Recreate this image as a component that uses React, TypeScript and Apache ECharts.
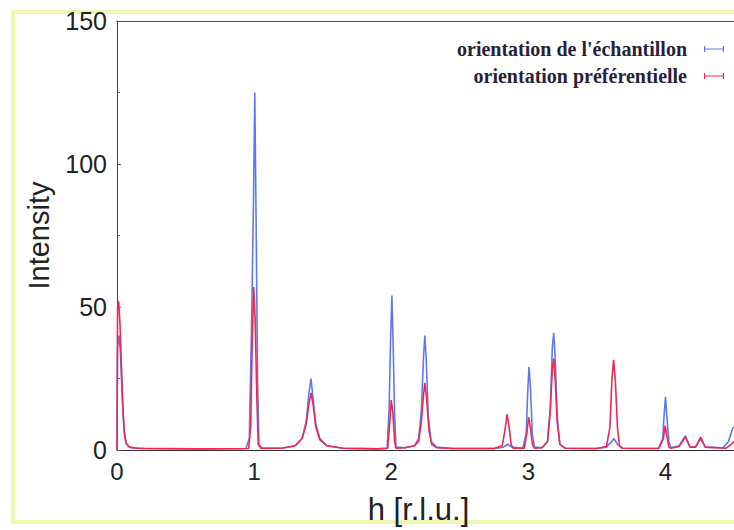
import React, { useEffect, useRef } from "react";
import * as echarts from "echarts";

const seriesNames = ["orientation de l'échantillon", "orientation préférentielle"];

// [h, intensity] pairs
const echantillon: number[][] = [
  [0, 0], [0.004, 36], [0.015, 40], [0.025, 34], [0.035, 22], [0.045, 12], [0.055, 5], [0.07, 2], [0.1, 0.8], [0.2, 0.5],
  [0.6, 0.4], [0.94, 0.5], [0.965, 4], [0.98, 40], [0.995, 85], [1.005, 125], [1.015, 78], [1.025, 25], [1.035, 2], [1.06, 0.6],
  [1.2, 0.6], [1.3, 1.5], [1.35, 4], [1.38, 10], [1.40, 20], [1.415, 25], [1.43, 18], [1.45, 9], [1.48, 4], [1.53, 1.5], [1.65, 0.6],
  [1.9, 0.4], [1.97, 0.6], [1.985, 15], [1.995, 38], [2.005, 54], [2.015, 35], [2.025, 12], [2.035, 1], [2.1, 0.8],
  [2.17, 1.5], [2.2, 4], [2.22, 14], [2.235, 32], [2.245, 40], [2.255, 32], [2.27, 12], [2.29, 3], [2.33, 1], [2.45, 0.5],
  [2.75, 0.5], [2.82, 1], [2.85, 2], [2.88, 1], [2.96, 0.6], [2.985, 6], [2.995, 20], [3.005, 29], [3.015, 22], [3.03, 5], [3.045, 1],
  [3.1, 0.8], [3.14, 3], [3.16, 14], [3.175, 36], [3.185, 41], [3.195, 33], [3.21, 12], [3.23, 2], [3.27, 0.6],
  [3.5, 0.5], [3.57, 1], [3.6, 2.5], [3.625, 4], [3.65, 2], [3.68, 0.6],
  [3.95, 0.5], [3.98, 4], [3.99, 12], [4.0, 18.5], [4.01, 12], [4.025, 3], [4.04, 0.8],
  [4.1, 1.5], [4.145, 5], [4.18, 1], [4.22, 1], [4.255, 4], [4.29, 1], [4.42, 0.8], [4.46, 3], [4.49, 7.5], [4.5, 8],
];

const preferentielle: number[][] = [
  [0, 0], [0.004, 50], [0.012, 52], [0.022, 44], [0.032, 30], [0.042, 16], [0.052, 7], [0.065, 2.5], [0.09, 1], [0.15, 0.6],
  [0.6, 0.4], [0.96, 0.5], [0.975, 8], [0.985, 35], [0.997, 57], [1.008, 45], [1.02, 18], [1.03, 2], [1.05, 0.6],
  [1.2, 0.6], [1.3, 1.5], [1.35, 4], [1.38, 9], [1.40, 16], [1.415, 20], [1.43, 16], [1.45, 8], [1.48, 3.5], [1.53, 1.5], [1.65, 0.6],
  [1.9, 0.4], [1.975, 0.6], [1.99, 10], [2.0, 17.5], [2.012, 13], [2.025, 3], [2.035, 0.6], [2.1, 0.8],
  [2.17, 1.5], [2.2, 3], [2.22, 10], [2.235, 19], [2.245, 23.5], [2.258, 18], [2.275, 7], [2.295, 2], [2.33, 0.8], [2.45, 0.5],
  [2.75, 0.5], [2.81, 1.5], [2.83, 7], [2.845, 12.5], [2.86, 8], [2.875, 2], [2.89, 0.6],
  [2.97, 0.6], [2.99, 6], [3.002, 11.5], [3.015, 8], [3.03, 2], [3.045, 0.6],
  [3.1, 0.8], [3.14, 3], [3.16, 14], [3.175, 28], [3.185, 32], [3.197, 24], [3.21, 10], [3.23, 2], [3.27, 0.6],
  [3.5, 0.5], [3.57, 1.2], [3.595, 8], [3.61, 25], [3.622, 31.5], [3.635, 24], [3.65, 8], [3.665, 1.5], [3.69, 0.6],
  [3.95, 0.5], [3.985, 4], [3.998, 8.5], [4.01, 5], [4.025, 1], [4.04, 0.6],
  [4.1, 1.2], [4.145, 4.5], [4.18, 1], [4.22, 1], [4.257, 4.5], [4.29, 1], [4.44, 0.6], [4.48, 2], [4.5, 3],
];

const yTicks = [0, 50, 100, 150];
const xTicks = [0, 1, 2, 3, 4];

export default function App() {
  const ref = useRef<HTMLDivElement>(null);
  useEffect(() => {
    if (!ref.current) return;
    const chart = echarts.init(ref.current, null, { renderer: "svg" });
    const iconFor = "path://M0,0h1.2v6h-1.2z M0,2.4h20v1.2h-20z M18.8,0h1.2v6h-1.2z";
    chart.setOption({
      animation: false,
      backgroundColor: "#ffffff",
      graphic: [
        {
          type: "rect",
          shape: { x: 13, y: 12, width: 800, height: 510 },
          style: { fill: "none", stroke: "#f0f5b4", lineWidth: 4 },
          silent: true,
        },
      ],
      grid: { left: 117, top: 21, right: 0, bottom: 80, containLabel: false },
      legend: {
        data: seriesNames.map((n) => ({ name: n, icon: iconFor })),
        orient: "vertical",
        right: 5,
        top: 34,
        align: "right",
        itemGap: 7,
        itemWidth: 20,
        itemHeight: 6,
        textStyle: {
          fontFamily: "Liberation Serif",
          fontWeight: "bold",
          fontSize: 20,
          color: "#2a1f3a",
          padding: [0, 12, 0, 0],
        },
      },
      xAxis: [
        {
          type: "value",
          min: xTicks[0],
          max: 4.5,
          interval: 1,
          name: "h [r.l.u.]",
          nameLocation: "middle",
          nameGap: 44,
          nameTextStyle: { fontFamily: "Liberation Sans", fontSize: 31, color: "#222", padding: [0, 14, 0, 0] },
          axisLine: { show: true, lineStyle: { color: "#333", width: 1 } },
          axisTick: { show: false },
          splitLine: { show: false },
          axisLabel: {
            margin: 9,
            fontFamily: "Liberation Sans",
            fontSize: 24,
            color: "#222",
            showMaxLabel: false,
            formatter: (v: number) => (xTicks.includes(v) ? String(v) : ""),
          },
        },
        {
          type: "value",
          position: "top",
          min: 0,
          max: 4.5,
          axisLine: { show: true, lineStyle: { color: "#8a3a40", width: 1.2 } },
          axisTick: { show: false },
          axisLabel: { show: false },
          splitLine: { show: false },
        },
      ],
      yAxis: {
        type: "value",
        min: yTicks[0],
        max: yTicks[yTicks.length - 1],
        interval: 50,
        name: "Intensity",
        nameLocation: "middle",
        nameGap: 64,
        nameTextStyle: { fontFamily: "Liberation Sans", fontSize: 29, color: "#222" },
        axisLine: { show: true, lineStyle: { color: "#444", width: 1 } },
        axisTick: { show: true, inside: true, length: 4, lineStyle: { color: "#555" } },
        minorTick: { show: true, splitNumber: 2, length: 3, lineStyle: { color: "#666" } },
        splitLine: { show: false },
        axisLabel: {
          margin: 10,
          fontFamily: "Liberation Sans",
          fontSize: 25,
          color: "#222",
        },
      },
      series: [
        {
          name: seriesNames[0],
          type: "line",
          data: echantillon,
          showSymbol: false,
          symbol: "none",
          itemStyle: { color: "#6078ee" },
          lineStyle: { color: "#6078ee", width: 1.6 },
        },
        {
          name: seriesNames[1],
          type: "line",
          data: preferentielle,
          showSymbol: false,
          symbol: "none",
          itemStyle: { color: "#f02850" },
          lineStyle: { color: "#f02850", width: 1.6 },
        },
      ],
    });
    return () => chart.dispose();
  }, []);
  return (
    <div
      ref={ref}
      style={{ position: "absolute", left: 0, top: 0, width: 734, height: 530 }}
    />
  );
}
